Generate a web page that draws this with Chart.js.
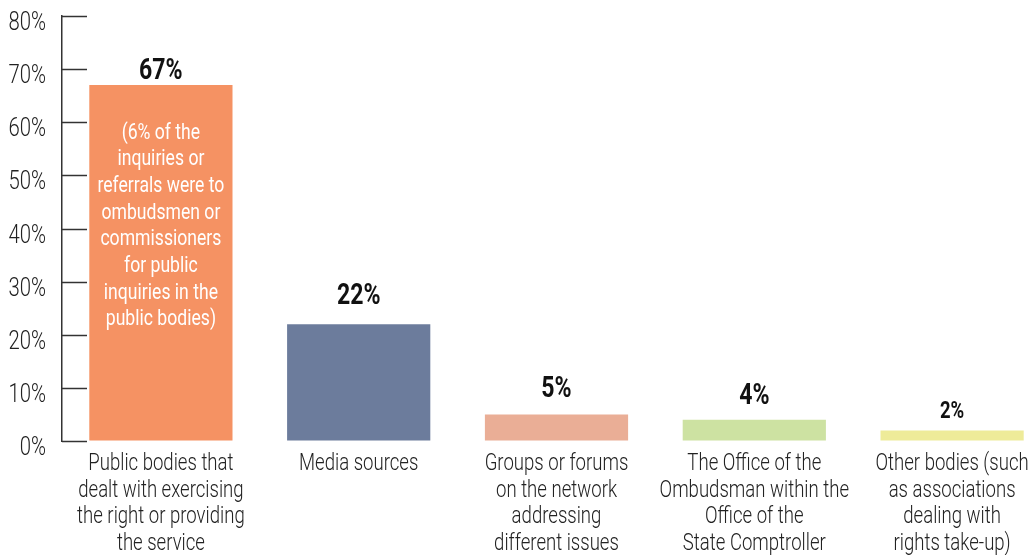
<!DOCTYPE html>
<html>
<head>
<meta charset="utf-8">
<script src="https://cdn.jsdelivr.net/npm/chart.js@4"></script>
<style>
    html, body { margin: 0; padding: 0; background: #fff; overflow: hidden; }
    #wrap { position: relative; width: 1051px; height: 555px; }
</style>
</head>
<body>
<div id="wrap"><canvas id="referralsChart"></canvas></div>
<script>
// Where inquiries were referred to (share of all referrals)
const categories = [
    ['Public bodies that', 'dealt with exercising', 'the right or providing', 'the service'],
    ['Media sources'],
    ['Groups or forums', 'on the network', 'addressing', 'different issues'],
    ['The Office of the', 'Ombudsman within the', 'Office of the', 'State Comptroller'],
    ['Other bodies (such', 'as associations', 'dealing with', 'rights take-up)']
];
const shares = [67, 22, 5, 4, 2];
const yTicks = [0, 10, 20, 30, 40, 50, 60, 70, 80];
const noteLines = [
    '(6% of the',
    'inquiries or',
    'referrals were to',
    'ombudsmen or',
    'commissioners',
    'for public',
    'inquiries in the',
    'public bodies)'
];

const barColors = ['#F59263', '#6C7C9C', '#EAAE96', '#CDE2A2', '#EEEB99'];
const FONT = "Roboto, 'Noto Sans', sans-serif";
const SQUEEZE = 0.8; // horizontal squeeze for a condensed look

function narrowText(ctx, text, x, y, sx) {
    ctx.save();
    ctx.translate(x, y);
    ctx.scale(sx, 1);
    ctx.fillText(text, 0, 0);
    ctx.restore();
}

// Tick marks, axis labels, value labels and the note in the first bar
const annotate = {
    id: 'annotate',
    afterDatasetsDraw(chart, args, opts) {
        const ctx = chart.ctx;
        const area = chart.chartArea;
        const x = chart.scales.x;
        const y = chart.scales.y;

        ctx.save();
        ctx.strokeStyle = '#333';
        ctx.lineWidth = 1.5;
        ctx.fillStyle = '#222';
        ctx.font = '300 26px ' + FONT;
        ctx.textAlign = 'right';
        ctx.textBaseline = 'middle';
        yTicks.forEach(v => {
            const py = Math.round(y.getPixelForValue(v)) + 0.5;
            ctx.beginPath();
            ctx.moveTo(area.left, py);
            ctx.lineTo(area.left + 25, py);
            ctx.stroke();
            narrowText(ctx, v + '%', area.left - 16, py + 7, 0.78);
        });

        // category names under the bars
        ctx.textAlign = 'center';
        ctx.font = '300 23.5px ' + FONT;
        categories.forEach((lines, i) => {
            const cx = x.getPixelForTick(i);
            lines.forEach((line, j) => {
                narrowText(ctx, line, cx, area.bottom + 23 + j * 26.8, 0.79);
            });
        });

        const bars = chart.getDatasetMeta(0).data;
        ctx.textBaseline = 'alphabetic';
        ctx.fillStyle = '#111';
        bars.forEach((bar, i) => {
            const size = i === 4 ? 24 : 30;
            ctx.font = 'bold ' + size + 'px ' + FONT;
            narrowText(ctx, shares[i] + '%', bar.x, bar.y - opts.gaps[i], 0.77);
        });

        // note inside the first bar
        const first = bars[0];
        ctx.fillStyle = '#fff';
        ctx.font = '22px ' + FONT;
        ctx.textBaseline = 'middle';
        noteLines.forEach((line, i) => {
            narrowText(ctx, line, first.x, first.y + 48 + i * 26.7, SQUEEZE);
        });
        ctx.restore();
    }
};

const ctx = document.getElementById('referralsChart').getContext('2d');
new Chart(ctx, {
    type: 'bar',
    data: {
        labels: categories,
        datasets: [{
            data: shares,
            backgroundColor: barColors,
            borderWidth: 0,
            barPercentage: 0.724,
            categoryPercentage: 1
        }]
    },
    options: {
        responsive: true,
        maintainAspectRatio: false,
        animation: false,
        layout: { padding: { top: 16, left: 0, right: 0, bottom: 0 } },
        plugins: {
            legend: { display: false },
            tooltip: { enabled: false },
            annotate: { gaps: [6, 20, 17, 16, 12] }
        },
        scales: {
            x: {
                grid: { display: false, drawTicks: false },
                border: { display: false },
                ticks: { display: false },
                afterFit(scale) { scale.height = 114; }
            },
            y: {
                min: 0,
                max: 80,
                grid: { drawOnChartArea: false, drawTicks: false },
                border: { display: true, color: '#333', width: 1.5 },
                ticks: { display: false, stepSize: 10 },
                afterFit(scale) { scale.width = 62; }
            }
        }
    },
    plugins: [annotate]
});
</script>
</body>
</html>
